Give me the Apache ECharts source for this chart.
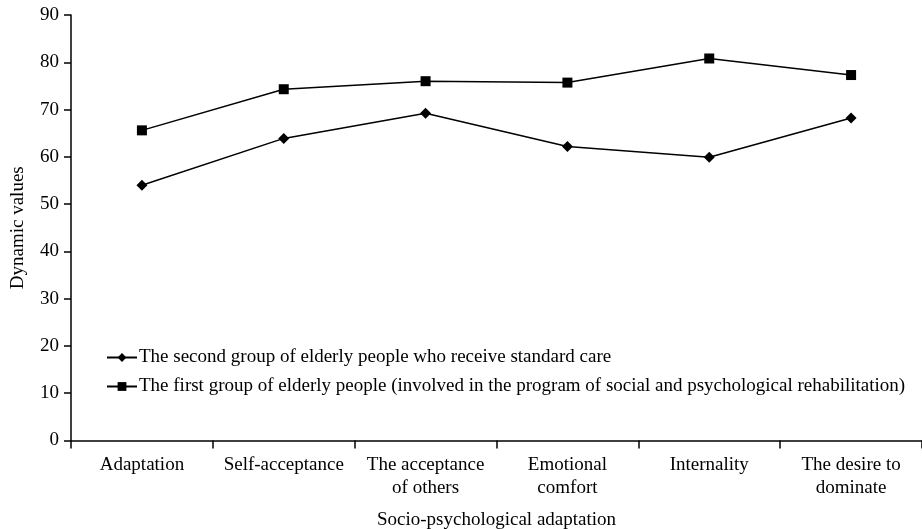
<!DOCTYPE html>
<html><head><meta charset="utf-8">
<script src="https://cdn.jsdelivr.net/npm/echarts@6/dist/echarts.min.js"></script>
<style>html,body{margin:0;padding:0;background:#fff}#c{width:922px;height:529px}</style>
</head><body><div id="c"></div>
<script>
const categories = ['Adaptation', 'Self-acceptance', 'The acceptance\nof others', 'Emotional\ncomfort', 'Internality', 'The desire to\ndominate'];
const secondGroup = [54.0, 63.9, 69.2, 62.2, 59.9, 68.2];
const firstGroup = [65.6, 74.3, 76.0, 75.7, 80.8, 77.3];
const secondName = 'The second group of elderly people who receive standard care';
const firstName = 'The first group of elderly people (involved in the program of social and psychological rehabilitation)';
const yTicks = [0, 90, 10];

const font = 'Liberation Serif';
const fs = 19;
const chart = echarts.init(document.getElementById('c'));
chart.setOption({
  animation: false,
  textStyle: { fontFamily: font, color: '#000' },
  grid: { left: 71, right: 0, top: 15, bottom: 88.5, containLabel: false, outerBoundsMode: 'none' },
  legend: {
    orient: 'vertical', left: 101, top: 343, itemGap: 10,
    itemWidth: 30, itemHeight: 11,
    textStyle: { fontFamily: font, fontSize: fs, color: '#000', padding: [0, 0, 0, -3] },
    data: [secondName, firstName]
  },
  xAxis: {
    type: 'category', data: categories, boundaryGap: true,
    name: 'Socio-psychological adaptation', nameLocation: 'middle', nameGap: 70,
    nameTextStyle: { fontFamily: font, fontSize: fs, color: '#000' },
    axisLine: { lineStyle: { color: '#000', width: 1.5 } },
    axisTick: { show: true, length: 8, lineStyle: { color: '#000', width: 1.5 } },
    axisLabel: { fontFamily: font, fontSize: fs, color: '#000', margin: 13, lineHeight: 23, interval: 0 }
  },
  yAxis: {
    type: 'value', min: yTicks[0], max: yTicks[1], interval: yTicks[2],
    name: 'Dynamic values', nameLocation: 'middle', nameGap: 43, nameRotate: 90,
    nameTextStyle: { fontFamily: font, fontSize: fs, color: '#000' },
    axisLine: { show: true, lineStyle: { color: '#000', width: 1.5 } },
    axisTick: { show: true, length: 7, lineStyle: { color: '#000', width: 1.5 } },
    splitLine: { show: false },
    axisLabel: { fontFamily: font, fontSize: fs, color: '#000', margin: 12 }
  },
  series: [
    {
      name: secondName, type: 'line', data: secondGroup,
      symbol: 'diamond', symbolSize: [11, 11],
      lineStyle: { color: '#000', width: 1.5 },
      itemStyle: { color: '#000' }
    },
    {
      name: firstName, type: 'line', data: firstGroup,
      symbol: 'rect', symbolSize: 10,
      lineStyle: { color: '#000', width: 1.5 },
      itemStyle: { color: '#000' }
    }
  ]
});
</script></body></html>
